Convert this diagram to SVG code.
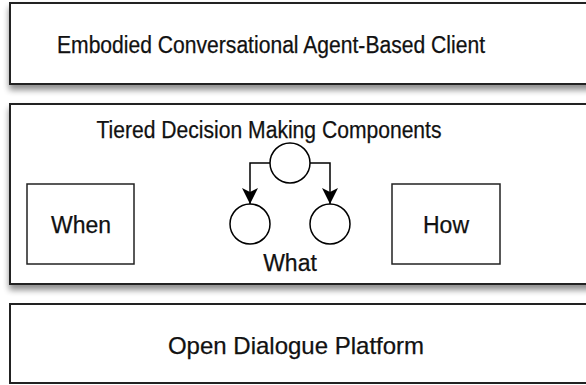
<svg xmlns="http://www.w3.org/2000/svg" width="586" height="385" viewBox="0 0 586 385">
  <defs>
    <filter id="shadow" x="-5%" y="-10%" width="110%" height="130%">
      <feGaussianBlur in="SourceAlpha" stdDeviation="3"/>
      <feOffset dx="0" dy="5" result="b"/>
      <feComponentTransfer><feFuncA type="linear" slope="0.45"/></feComponentTransfer>
      <feMerge><feMergeNode/><feMergeNode in="SourceGraphic"/></feMerge>
    </filter>
    <marker id="arrow" viewBox="0 0 16 16" refX="16" refY="8" markerWidth="16" markerHeight="16" markerUnits="userSpaceOnUse" orient="auto">
      <path d="M0,0 L16,8 L0,16 L4,8 Z" fill="#000"/>
    </marker>
  </defs>
  <style>
    .layer { fill: #fff; stroke: #222; stroke-width: 2; }
    .box { fill: #fff; stroke: #222; stroke-width: 1.5; }
    .node { fill: #fff; stroke: #000; stroke-width: 1.5; }
    .edge { fill: none; stroke: #000; stroke-width: 1.5; }
    text { font-family: "Liberation Sans", Arial, sans-serif; font-size: 23px; fill: #111; stroke: #111; stroke-width: 0.25; text-anchor: middle; }
  </style>
  <rect width="586" height="385" fill="#fff"/>

  <g id="client">
    <rect class="layer" x="10" y="3" width="590" height="81" filter="url(#shadow)"/>
    <text x="271" y="53" textLength="428" lengthAdjust="spacingAndGlyphs">Embodied Conversational Agent-Based Client</text>
  </g>

  <g id="decision">
    <rect class="layer" x="10" y="104" width="590" height="180" filter="url(#shadow)"/>
    <text x="269" y="138" textLength="345" lengthAdjust="spacingAndGlyphs">Tiered Decision Making Components</text>
  </g>

  <g id="when">
    <rect class="box" x="27" y="184" width="107" height="80"/>
    <text x="81" y="233">When</text>
  </g>

  <g id="how">
    <rect class="box" x="392" y="184" width="108" height="80"/>
    <text x="446" y="233">How</text>
  </g>

  <g id="what">
    <circle id="what-root" class="node" cx="290" cy="163" r="20"/>
    <circle id="what-left" class="node" cx="250" cy="224" r="20"/>
    <circle id="what-right" class="node" cx="330" cy="224" r="20"/>
    <text x="290" y="271">What</text>
  </g>

  <g id="connectors">
    <path class="edge" d="M270,163 H250 V204" marker-end="url(#arrow)"/>
    <path class="edge" d="M310,163 H330 V204" marker-end="url(#arrow)"/>
  </g>

  <g id="platform">
    <rect class="layer" x="10" y="304" width="590" height="79"/>
    <text x="296" y="354" style="font-size:24px">Open Dialogue Platform</text>
  </g>
</svg>
